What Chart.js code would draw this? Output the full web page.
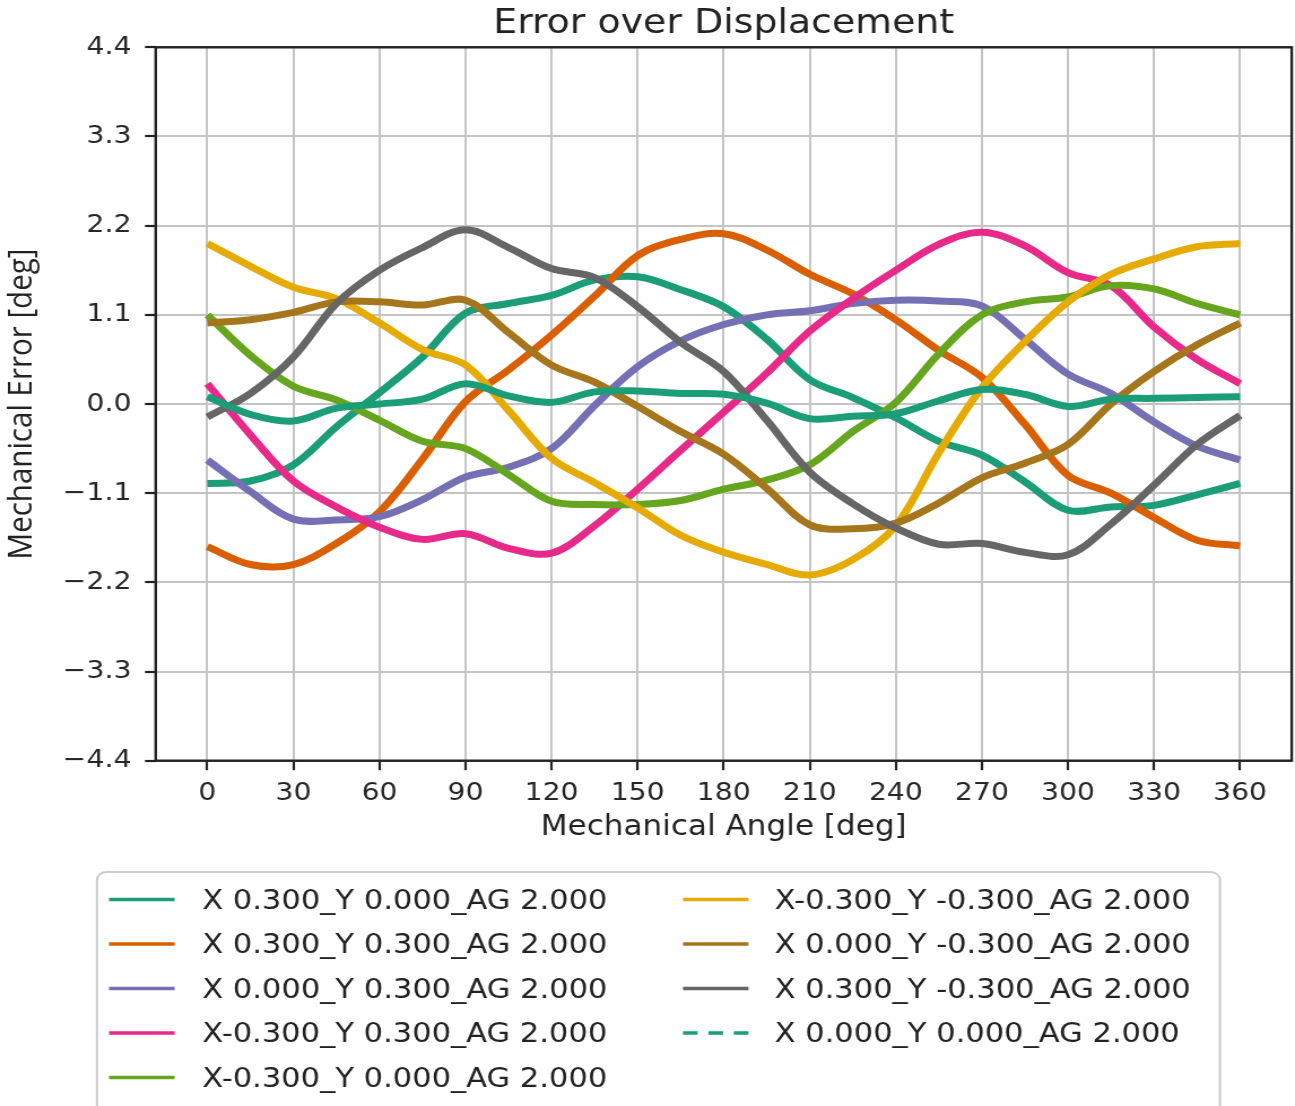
<!DOCTYPE html>
<html>
<head>
<meta charset="utf-8">
<script src="https://cdn.jsdelivr.net/npm/chart.js@4.4.0/dist/chart.umd.min.js"></script>
<style>
  html, body { margin: 0; padding: 0; background: #ffffff; overflow: hidden; }
  /* the reference picture is stretched sideways, so the canvas is too */
  #wrap { width: 1146px; height: 1106px; transform: scaleX(1.13); transform-origin: 0 0; }
</style>
</head>
<body>
<div id="wrap"><canvas id="myChart" width="1146" height="1106"></canvas></div>
<script>
// Mechanical angle samples (deg)
const angles = [0, 15, 30, 45, 60, 75, 90, 105, 120, 135, 150, 165, 180,
  195, 210, 225, 240, 255, 270, 285, 300, 315, 330, 345, 360];

// Axis ticks
const xTicks = [0, 30, 60, 90, 120, 150, 180, 210, 240, 270, 300, 330, 360];
const yTicks = [-4.4, -3.3, -2.2, -1.1, 0, 1.1, 2.2, 3.3, 4.4];

// Series names and colours
const seriesLabels = [
  "X 0.300_Y 0.000_AG 2.000",
  "X 0.300_Y 0.300_AG 2.000",
  "X 0.000_Y 0.300_AG 2.000",
  "X-0.300_Y 0.300_AG 2.000",
  "X-0.300_Y 0.000_AG 2.000",
  "X-0.300_Y -0.300_AG 2.000",
  "X 0.000_Y -0.300_AG 2.000",
  "X 0.300_Y -0.300_AG 2.000",
  "X 0.000_Y 0.000_AG 2.000",
];
const seriesColors = ["#1b9e77", "#d95f02", "#7570b3", "#e7298a", "#66a61e",
  "#e6ab02", "#a6761d", "#666666", "#1b9e77"];

// Mechanical error (deg) for each displacement
const x030_y000 = [-0.98, -0.95, -0.75, -0.28, 0.14, 0.58, 1.12, 1.24, 1.34, 1.53, 1.57, 1.41, 1.2,
  0.8, 0.3, 0.08, -0.17, -0.46, -0.63, -0.96, -1.31, -1.27, -1.25, -1.12, -0.98];
const x030_y030 = [-1.76, -1.98, -1.98, -1.72, -1.33, -0.68, 0.03, 0.42, 0.85, 1.33, 1.83, 2.03, 2.1,
  1.9, 1.6, 1.36, 1.04, 0.66, 0.33, -0.25, -0.88, -1.1, -1.4, -1.68, -1.75];
const x000_y030 = [-0.69, -1.08, -1.42, -1.43, -1.39, -1.18, -0.9, -0.78, -0.55, -0.02, 0.46, 0.78, 0.98,
  1.1, 1.15, 1.24, 1.28, 1.27, 1.21, 0.8, 0.37, 0.13, -0.22, -0.52, -0.69];
const xm030_y030 = [0.25, -0.38, -0.95, -1.27, -1.52, -1.67, -1.6, -1.78, -1.84, -1.5, -1.05, -0.57, -0.1,
  0.38, 0.9, 1.3, 1.65, 1.97, 2.12, 1.95, 1.62, 1.46, 0.95, 0.55, 0.25];
const xm030_y000 = [1.1, 0.6, 0.22, 0.05, -0.2, -0.46, -0.55, -0.87, -1.2, -1.24, -1.24, -1.19, -1.05,
  -0.94, -0.75, -0.34, 0.02, 0.62, 1.1, 1.26, 1.32, 1.46, 1.42, 1.24, 1.1];
const xm030_ym030 = [1.98, 1.7, 1.44, 1.3, 1.0, 0.67, 0.48, -0.08, -0.67, -0.97, -1.28, -1.62, -1.83,
  -1.98, -2.11, -1.92, -1.5, -0.6, 0.2, 0.77, 1.26, 1.6, 1.79, 1.94, 1.98];
const x000_ym030 = [1.0, 1.04, 1.13, 1.26, 1.26, 1.22, 1.28, 0.88, 0.48, 0.27, -0.03, -0.34, -0.62,
  -1.04, -1.49, -1.54, -1.47, -1.22, -0.91, -0.73, -0.5, 0.0, 0.4, 0.73, 1.0];
const x030_ym030 = [-0.16, 0.13, 0.58, 1.24, 1.65, 1.93, 2.15, 1.93, 1.67, 1.56, 1.2, 0.76, 0.4,
  -0.2, -0.84, -1.23, -1.53, -1.73, -1.72, -1.83, -1.86, -1.48, -1.0, -0.5, -0.14];
const x000_y000 = [0.09, -0.13, -0.21, -0.05, 0.0, 0.06, 0.25, 0.1, 0.02, 0.15, 0.16, 0.13, 0.12,
  0.01, -0.18, -0.15, -0.12, 0.04, 0.18, 0.12, -0.03, 0.06, 0.07, 0.08, 0.09];

const seriesValues = [x030_y000, x030_y030, x000_y030, xm030_y030, xm030_y000,
  xm030_ym030, x000_ym030, x030_ym030, x000_y000];

// Format a tick the way matplotlib does (real minus sign)
function formatTick(v) {
  return (v < 0 ? "\u2212" : "") + Math.abs(v).toFixed(1);
}

// Full black frame round the plot area
const framePlugin = {
  id: "frame",
  afterDraw(chart) {
    const a = chart.chartArea;
    const ctx = chart.ctx;
    ctx.save();
    ctx.strokeStyle = "#222222";
    ctx.lineWidth = 2.4;
    ctx.strokeRect(a.left, a.top, a.right - a.left, a.bottom - a.top);
    ctx.restore();
  },
};

// Legend box under the chart, two columns like the reference
const legendPlugin = {
  id: "boxLegend",
  afterDraw(chart) {
    const ctx = chart.ctx;
    const left = 85.8, top = 872, right = 1079.6, bottom = 1140, r = 8;
    ctx.save();
    ctx.beginPath();
    ctx.moveTo(left + r, top);
    ctx.lineTo(right - r, top);
    ctx.arcTo(right, top, right, top + r, r);
    ctx.lineTo(right, bottom);
    ctx.lineTo(left, bottom);
    ctx.lineTo(left, top + r);
    ctx.arcTo(left, top, left + r, top, r);
    ctx.closePath();
    ctx.fillStyle = "#ffffff";
    ctx.fill();
    ctx.lineWidth = 2;
    ctx.strokeStyle = "#cccccc";
    ctx.stroke();

    ctx.font = "27px 'DejaVu Sans'";
    ctx.textBaseline = "middle";
    ctx.textAlign = "left";
    seriesLabels.forEach((label, i) => {
      const col = i < 5 ? 0 : 1;
      const row = i < 5 ? i : i - 5;
      const y = 901.5 + row * 44.5;
      const lineX = col === 0 ? 96.5 : 604.4;
      const textX = col === 0 ? 179 : 685.5;
      ctx.beginPath();
      ctx.setLineDash(i === 8 ? [13, 9.5] : []);
      ctx.lineWidth = 3.5;
      ctx.strokeStyle = seriesColors[i];
      ctx.moveTo(lineX, y - 2);
      ctx.lineTo(lineX + 58, y - 2);
      ctx.stroke();
      ctx.setLineDash([]);
      ctx.fillStyle = "#222222";
      ctx.fillText(label, textX, y);
    });
    ctx.restore();
  },
};

// Build one dataset per displacement
function buildDatasets() {
  return seriesLabels.map((label, i) => ({
    label: label,
    data: angles.map((a, k) => ({ x: a, y: seriesValues[i][k] })),
    borderColor: seriesColors[i],
    backgroundColor: seriesColors[i],
    borderWidth: 7,
    pointRadius: 0,
    tension: 0.35,
    fill: false,
    order: seriesLabels.length - i,
  }));
}

Chart.defaults.font.family = "'DejaVu Sans'";
Chart.defaults.color = "#262626";

var ctx = document.getElementById("myChart").getContext("2d");
var chart = new Chart(ctx, {
  type: "line",
  data: { datasets: buildDatasets() },
  plugins: [framePlugin, legendPlugin],
  options: {
    responsive: false,
    animation: false,
    layout: { padding: { top: 0, left: 0, right: 2.9, bottom: 261.5 } },
    plugins: {
      legend: { display: false },
      tooltip: { enabled: false },
      title: {
        display: true,
        text: "Error over Displacement",
        fullSize: false,
        color: "#222222",
        font: { size: 33.5, weight: "normal", lineHeight: 1.2 },
        padding: { top: 4, bottom: 3.1 },
      },
    },
    scales: {
      x: {
        type: "linear",
        min: -18,
        max: 378,
        afterBuildTicks: (scale) => { scale.ticks = xTicks.map((v) => ({ value: v })); },
        afterFit: (scale) => { scale.height = 83.8; },
        border: { display: false },
        grid: { color: "#c4c4c4", lineWidth: 2, tickLength: 9.5, tickColor: "#222222", tickWidth: 2.2 },
        ticks: { autoSkip: false, maxRotation: 0, minRotation: 0, padding: 8, font: { size: 25 } },
        title: {
          display: true,
          text: "Mechanical Angle [deg]",
          color: "#222222",
          font: { size: 27.5, lineHeight: 1.2 },
          padding: { top: 0, bottom: 0 },
        },
      },
      y: {
        type: "linear",
        min: -4.4,
        max: 4.4,
        afterBuildTicks: (scale) => { scale.ticks = yTicks.map((v) => ({ value: v })); },
        afterFit: (scale) => { scale.width = 137.8; },
        border: { display: false },
        grid: { color: "#c4c4c4", lineWidth: 2, tickLength: 9.5, tickColor: "#222222", tickWidth: 2.2 },
        ticks: { padding: 12, font: { size: 25 }, callback: (v) => formatTick(v) },
        title: {
          display: true,
          text: "Mechanical Error [deg]",
          color: "#222222",
          font: { family: "'Open Sans'", size: 29.5, lineHeight: 1.2 },
          padding: { top: 2, bottom: 0 },
        },
      },
    },
  },
});
</script>
</body>
</html>
